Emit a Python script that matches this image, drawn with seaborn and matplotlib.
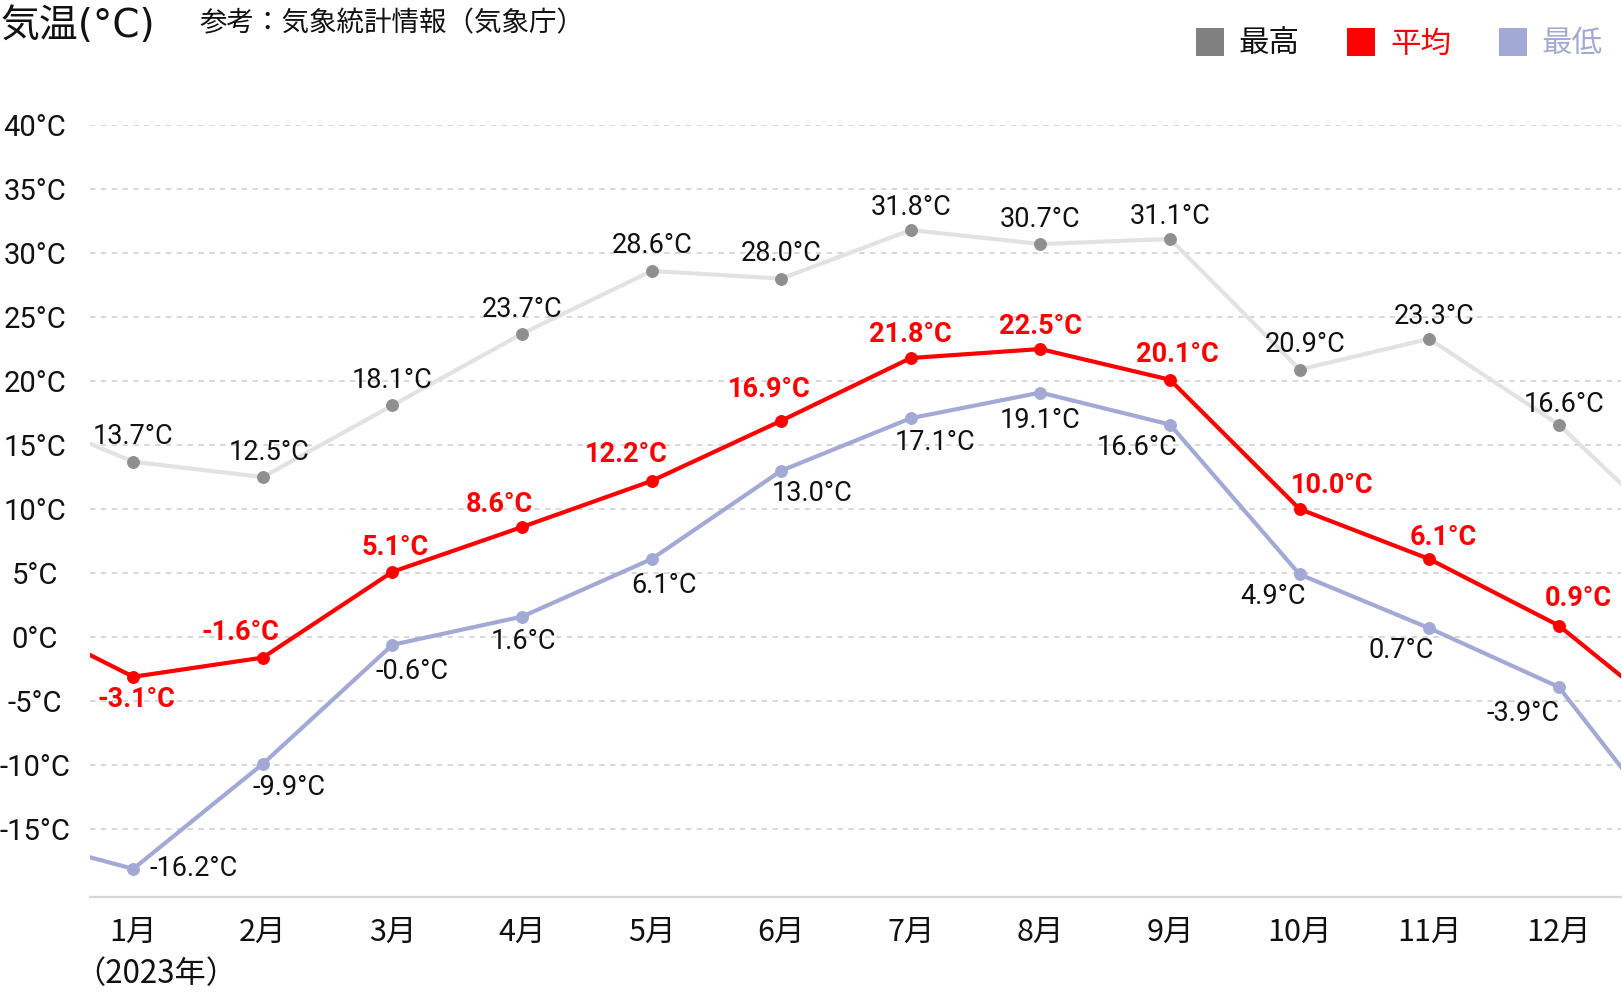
import matplotlib
matplotlib.use("Agg")
import matplotlib.pyplot as plt
import seaborn as sns
import pandas as pd
from matplotlib.patches import Rectangle

# ---- data ----
months = ["1月", "2月", "3月", "4月", "5月", "6月", "7月", "8月", "9月", "10月", "11月", "12月"]
month_no = [0, 1, 2, 3, 4, 5, 6, 7, 8, 9, 10, 11, 12, 13]   # 0 = Dec 2022, 13 = Jan 2024 (clipped)
t_max = [17.9, 13.7, 12.5, 18.1, 23.7, 28.6, 28.0, 31.8, 30.7, 31.1, 20.9, 23.3, 16.6, 7.0]
t_avg = [2.0, -3.1, -1.6, 5.1, 8.6, 12.2, 16.9, 21.8, 22.5, 20.1, 10.0, 6.1, 0.9, -7.3]
t_min = [-15.4, -18.1, -9.9, -0.6, 1.6, 6.1, 13.0, 17.1, 19.1, 16.6, 4.9, 0.7, -3.9, -16.9]
lab_max = ["13.7°C", "12.5°C", "18.1°C", "23.7°C", "28.6°C", "28.0°C", "31.8°C", "30.7°C", "31.1°C", "20.9°C", "23.3°C", "16.6°C"]
lab_avg = ["-3.1°C", "-1.6°C", "5.1°C", "8.6°C", "12.2°C", "16.9°C", "21.8°C", "22.5°C", "20.1°C", "10.0°C", "6.1°C", "0.9°C"]
lab_min = ["-16.2°C", "-9.9°C", "-0.6°C", "1.6°C", "6.1°C", "13.0°C", "17.1°C", "19.1°C", "16.6°C", "4.9°C", "0.7°C", "-3.9°C"]
y_ticks = [-15, -10, -5, 0, 5, 10, 15, 20, 25, 30, 35, 40]
y_tick_labels = ["-15°C", "-10°C", "-5°C", "0°C", "5°C", "10°C", "15°C", "20°C", "25°C", "30°C", "35°C", "40°C"]
legend_labels = ["最高", "平均", "最低"]

# label offsets (pixels) for the 12 visible points
off_max = [(0, 25), (6, 25), (0, 25), (0, 24), (0, 25), (0, 25), (0, 22), (0, 25), (0, 22), (6, 25), (5, 22), (5, 20)]
off_avg = [(3, -23), (-22, 25), (3, 24), (-23, 23), (-25, 26), (-12, 31), (0, 24), (0, 23), (7, 25), (33, 24), (14, 22), (20, 27)]
off_min = [(60, 0), (26, -24), (20, -27), (1, -25), (12, -26), (31, -23), (24, -24), (0, -28), (-33, -23), (-27, -22), (-28, -22), (-36, -26)]

C_MAX_LINE = "#e2e2e2"
C_MAX_MK = "#8f8f8f"
C_AVG = "#ff0000"
C_MIN = "#a3a9d5"

sns.set_theme(style="white")
plt.rcParams["font.family"] = ["Roboto", "Noto Sans CJK JP", "DejaVu Sans"]

df = pd.DataFrame({"m": month_no, "max": t_max, "avg": t_avg, "min": t_min})

W, H = 1622, 993
fig = plt.figure(figsize=(W / 100, H / 100), dpi=100)
ax = fig.add_axes([90 / W, 96 / H, (1621 - 90) / W, (897 - 125) / H])

lw = 3.0
ms = 8.5
sns.lineplot(data=df, x="m", y="max", ax=ax, color=C_MAX_LINE, lw=lw, marker="o",
             markersize=ms, markerfacecolor=C_MAX_MK, markeredgecolor=C_MAX_MK, zorder=3)
sns.lineplot(data=df, x="m", y="min", ax=ax, color=C_MIN, lw=lw, marker="o",
             markersize=ms, markerfacecolor=C_MIN, markeredgecolor=C_MIN, zorder=4)
sns.lineplot(data=df, x="m", y="avg", ax=ax, color=C_AVG, lw=lw, marker="o",
             markersize=ms, markerfacecolor=C_AVG, markeredgecolor=C_AVG, zorder=5)

ax.set_xlim(0.666, 12.48)
ax.set_ylim(-20.3, 40)

ax.set_yticks(y_ticks)
ax.set_yticklabels(y_tick_labels, fontsize=21, color="#111111", ha="center")
ax.tick_params(axis="y", length=0, pad=39.6)
ax.set_xticks(range(1, 13))
ax.set_xticklabels(months, fontsize=22, color="#111111", family=["Noto Sans CJK JP"])
ax.tick_params(axis="x", length=0, pad=14)
ax.set_xlabel("")
ax.set_ylabel("")

ax.grid(False)
for y in y_ticks:
    ax.axhline(y, color="#d4d4d4", lw=1.3, ls=(0, (3, 3)), zorder=1)
for s in ["top", "right", "left"]:
    ax.spines[s].set_visible(False)
ax.spines["bottom"].set_color("#d6d6d6")
ax.spines["bottom"].set_linewidth(1.6)

vis = month_no[1:13]
for i, m in enumerate(vis):
    ax.annotate(lab_max[i], (m, t_max[i + 1]), xytext=off_max[i], textcoords="offset pixels",
                ha="center", va="center", fontsize=19.5, color="#111111", zorder=6)
    ax.annotate(lab_avg[i], (m, t_avg[i + 1]), xytext=off_avg[i], textcoords="offset pixels",
                ha="center", va="center", fontsize=19.5, color=C_AVG, fontweight="bold", zorder=6)
    ax.annotate(lab_min[i], (m, t_min[i + 1]), xytext=off_min[i], textcoords="offset pixels",
                ha="center", va="center", fontsize=19.5, color="#111111", zorder=6)

# titles
fig.text(1 / W, 1 - 26 / H, "気温(°C)", fontsize=28, color="#111111", ha="left", va="center",
         family=["DejaVu Sans", "Noto Sans CJK JP"])
fig.text(199 / W, 1 - 24 / H, "参考：気象統計情報（気象庁）", fontsize=19.8, color="#111111", ha="left", va="center",
         family=["Noto Sans CJK JP"])
fig.text(74 / W, 1 - 974 / H, "（2023年）", fontsize=22.5, color="#111111", ha="left", va="center",
         family=["Noto Sans CJK JP"])

# legend
leg_x = [1196, 1347, 1499]
leg_sq = ["#808080", C_AVG, C_MIN]
leg_txt = ["#111111", C_AVG, C_MIN]
for x0, lab, cs, ct in zip(leg_x, legend_labels, leg_sq, leg_txt):
    fig.add_artist(Rectangle((x0 / W, 1 - 56 / H), 28 / W, 28 / H, transform=fig.transFigure,
                             facecolor=cs, edgecolor="none"))
    fig.text((x0 + 43) / W, 1 - 44 / H, lab, fontsize=22, color=ct, ha="left", va="center",
             family=["Noto Sans CJK JP"])

fig.savefig("out.png", dpi=100)
